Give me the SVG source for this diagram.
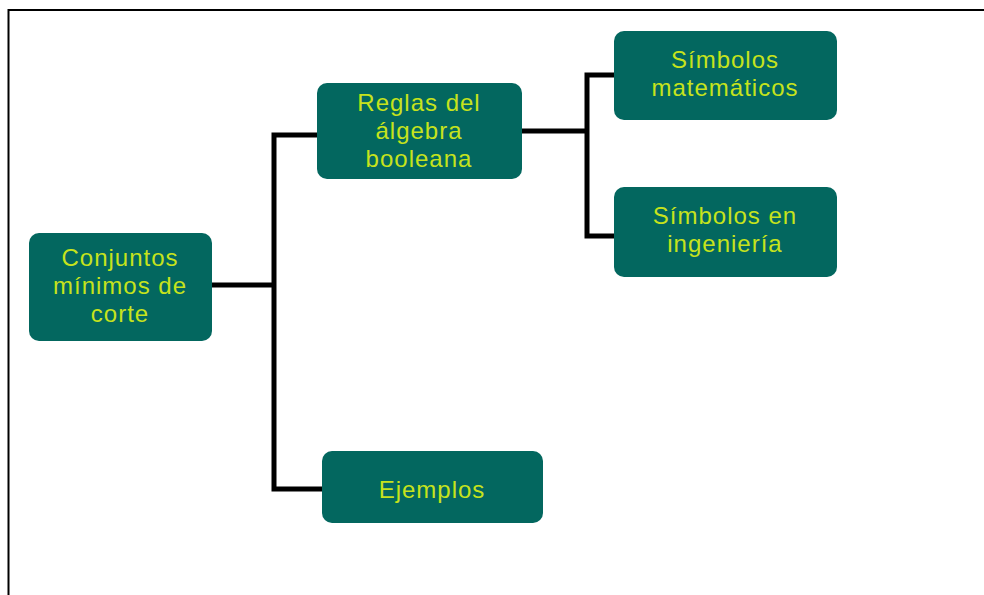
<svg xmlns="http://www.w3.org/2000/svg" width="984" height="595" viewBox="0 0 984 595">
<style>
.node rect{fill:#03675f;}
.node text{font-family:"Liberation Sans",Arial,sans-serif;font-size:24px;fill:#c6e31c;text-anchor:middle;letter-spacing:1px;}
.conn path{fill:none;stroke:#000;stroke-width:5;stroke-linejoin:miter;}
.frame{fill:none;stroke:#000;stroke-width:2;}
</style>
<rect width="984" height="595" fill="#fff"/>
<path class="frame" d="M8.5 595 V10 H984"/>
<g id="connectors" class="conn">
<path d="M207 285 H274"/>
<path d="M317 135 H274 V489 H322"/>
<path d="M520 131 H587"/>
<path d="M614 75 H587 V236 H614"/>
</g>
<g id="conjuntos" class="node">
<rect x="29" y="233" width="183" height="108" rx="10"/>
<text x="120" y="266">Conjuntos</text>
<text x="120" y="294">mínimos de</text>
<text x="120" y="322">corte</text>
</g>
<g id="reglas" class="node">
<rect x="317" y="83" width="205" height="96" rx="10"/>
<text x="419" y="111">Reglas del</text>
<text x="419" y="139">álgebra</text>
<text x="419" y="167">booleana</text>
</g>
<g id="simbolos-mat" class="node">
<rect x="614" y="31" width="223" height="89" rx="10"/>
<text x="725" y="68">Símbolos</text>
<text x="725" y="96">matemáticos</text>
</g>
<g id="simbolos-ing" class="node">
<rect x="614" y="187" width="223" height="90" rx="10"/>
<text x="725" y="224">Símbolos en</text>
<text x="725" y="252">ingeniería</text>
</g>
<g id="ejemplos" class="node">
<rect x="322" y="451" width="221" height="72" rx="10"/>
<text x="432" y="498">Ejemplos</text>
</g>
</svg>
